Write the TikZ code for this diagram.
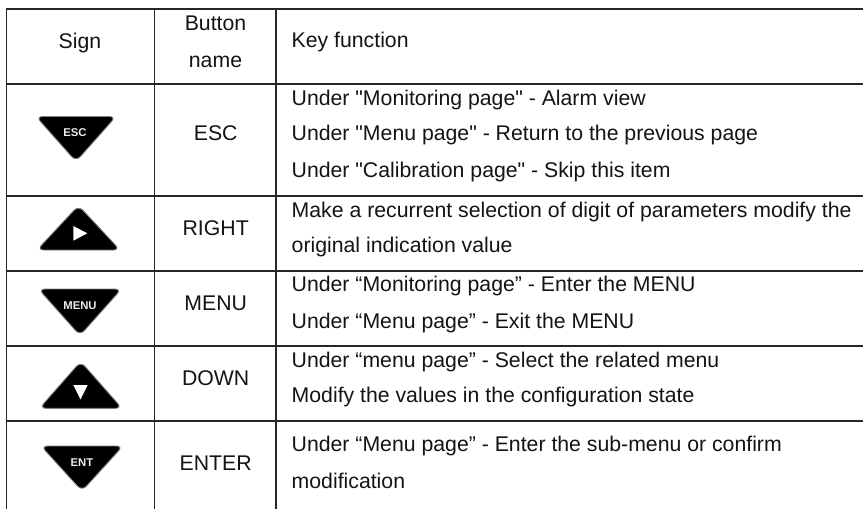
\documentclass[tikz,border=0pt]{standalone}
\usepackage{fontspec}
\setmainfont{Liberation Sans}[Ligatures=TeXOff]
\tikzset{
  x=1pt,y=-1pt,
  rule/.style={draw=black!85,line width=1.1pt},
  cell/.style={font=\fontsize{21.25}{24}\selectfont,text=black!92,inner sep=0pt,anchor=base},
  txt/.style={cell,anchor=base west},
  btn/.style={fill=black,draw=black!50,line width=0.9pt,rounded corners=6.5pt},
  btnlabel/.style={font=\fontsize{11.3}{13}\selectfont\bfseries,text=white!92!black,inner sep=0pt,anchor=center},
}
\begin{document}
\begin{tikzpicture}
\useasboundingbox (0,0) rectangle (863,509);
\fill[white] (0,0) rectangle (863,509);
% rules
\foreach \yy in {9,84,196,271,346,421}{\draw[rule] (6,\yy) -- (863,\yy);}
\foreach \xx in {6.2,154.5,276}{\draw[rule] (\xx,8.5) -- (\xx,509);}
% header
\node[cell] (hsign) at (80,48) {Sign};
\node[cell] (hbtn1) at (215.5,30) {Button};
\node[cell] (hbtn2) at (215.5,67) {name};
\node[txt] (hkey) at (291.5,47) {Key function};
% names
\node[cell] (nesc) at (215.7,140) {ESC};
\node[cell] (nright) at (215.7,235) {RIGHT};
\node[cell] (nmenu) at (215.7,310) {MENU};
\node[cell] (ndown) at (215.7,385) {DOWN};
\node[cell] (nenter) at (215.7,470) {ENTER};
% functions
\node[txt] (f1) at (291.5,105) {Under "Monitoring page" - Alarm view};
\node[txt] (f2) at (291.5,140) {Under "Menu page" - Return to the previous page};
\node[txt] (f3) at (291.5,177) {Under "Calibration page" - Skip this item};
\node[txt] (f4) at (291.5,217) {Make a recurrent selection of digit of parameters modify the};
\node[txt] (f5) at (291.5,252) {original indication value};
\node[txt] (f6) at (291.5,291) {Under “Monitoring page” - Enter the MENU};
\node[txt] (f7) at (291.5,328) {Under “Menu page” - Exit the MENU};
\node[txt] (f8) at (291.5,367) {Under “menu page” - Select the related menu};
\node[txt] (f9) at (291.5,402) {Modify the values in the configuration state};
\node[txt] (f10) at (291.5,451) {Under “Menu page” - Enter the sub-menu or confirm};
\node[txt] (f11) at (291.5,488) {modification};
% buttons
\draw[btn] (36,116.5) -- (116,116.5) -- (76,161.5) -- cycle;
\node[btnlabel] (besc) at (75,132.7) {ESC};
\draw[btn] (78.5,205.5) -- (120,250) -- (37,250) -- cycle;
\fill[white] (73.3,226) -- (87.3,233.3) -- (73.3,240.7) -- cycle;
\draw[btn] (38.5,289) -- (121.5,289) -- (80,335.5) -- cycle;
\node[btnlabel] (bmenu) at (80,306) {MENU};
\draw[btn] (80.7,361.5) -- (122,408.3) -- (39.5,408.3) -- cycle;
\fill[white] (73.3,385) -- (87.7,385) -- (80.5,399.3) -- cycle;
\draw[btn] (41,446) -- (123,446) -- (82,491) -- cycle;
\node[btnlabel] (bent) at (82,463) {ENT};
\end{tikzpicture}
\end{document}
